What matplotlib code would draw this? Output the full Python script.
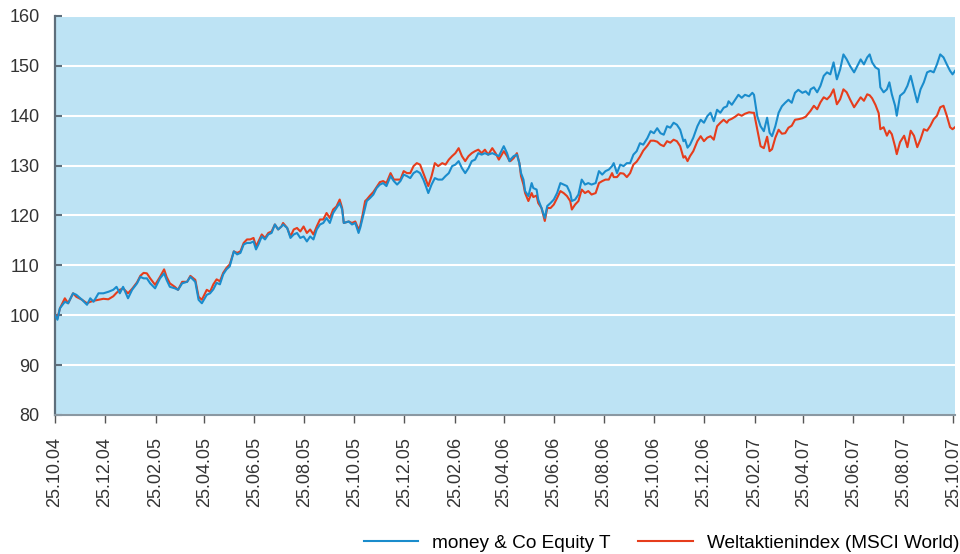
import numpy as np
import pandas as pd
import matplotlib
matplotlib.use("Agg")
import matplotlib.pyplot as plt

plt.rcParams['font.family'] = ['Liberation Sans', 'DejaVu Sans']

start = np.datetime64('2004-10-25')

# day offsets from 25.10.04
days = [0, 3, 6, 12, 16, 22, 26, 33, 39, 43, 47, 53, 59, 65, 71, 75, 79, 83, 89, 94,
        100, 104, 108, 112, 116, 122, 128, 133, 136, 140, 146, 150, 155, 161, 165, 171, 175, 179, 185, 189,
        193, 197, 201, 205, 209, 213, 218, 222, 226, 230, 234, 238, 242, 245, 248, 252, 256, 260, 264, 268,
        272, 276, 278, 283, 287, 291, 295, 299, 303, 307, 311, 315, 319, 323, 327, 331, 335, 339, 343, 347,
        350, 352, 358, 362, 366, 370,
        372, 375, 378, 380, 384, 388, 392, 396, 400, 404, 409, 413, 417, 421, 425, 429, 433, 437, 441, 445,
        449, 452, 455, 459, 463, 467, 472, 476, 480, 484, 488, 492, 496, 500, 504, 508, 512, 516, 520, 524,
        528, 533, 537, 541, 547, 551, 554,
        555, 559, 563, 566, 568, 571, 573, 577, 581, 583, 587, 589, 593, 597, 600, 604, 608, 612, 616, 620,
        624, 628, 630, 634, 638, 642, 646, 650, 654, 659, 663, 667, 671, 675, 679, 681, 685, 689, 693, 697,
        701, 705, 709, 713, 717, 722, 726, 730, 734, 738,
        742, 746, 750, 754, 758, 762, 766, 768, 771, 774, 778, 783, 787, 791, 795, 799, 803, 807, 811, 815,
        819, 821, 825, 829, 833, 837, 841, 846, 850, 852, 856, 860, 864, 868, 871, 874, 878, 882, 886, 890,
        894, 898, 902, 906, 911, 915, 919,
        921, 925, 929, 933, 937, 941, 945, 949, 953, 957, 961, 965, 969, 974, 978, 982, 986, 990, 993, 996,
        1000, 1004, 1006, 1010, 1014, 1017, 1020, 1024, 1026, 1030, 1035, 1039, 1043, 1047, 1051, 1055, 1059,
        1063, 1067, 1071, 1075, 1079, 1083, 1087, 1091, 1094, 1097]

fund = [100.0, 99.1, 101.4, 102.7, 102.4, 104.4, 104.1, 103.1, 102.1, 103.4, 102.7, 104.4, 104.4, 104.7, 105.1,
        105.7, 104.4, 105.7, 103.4, 105.1, 106.4, 107.7, 107.4, 107.4, 106.4, 105.4, 107.4, 108.4, 107.1, 105.7,
        105.4, 105.1, 106.4, 106.7, 107.7, 106.7, 103.1, 102.4, 104.1, 104.4,
        105.2, 106.5, 106.2, 108.2, 109.2, 109.8, 112.8, 112.2, 112.5, 114.2, 114.5, 114.5, 114.8, 113.2, 114.2,
        115.8, 115.2, 116.2, 116.5, 118.2, 117.2, 117.8, 118.2, 117.5, 115.5, 116.2, 116.5, 115.5, 115.8, 114.8,
        115.8, 115.2, 117.2, 118.2, 118.5, 119.5, 118.5, 120.5, 121.5, 122.5, 121.2, 118.5, 118.8, 118.2, 118.5,
        116.5,
        117.5, 119.5, 121.5, 122.9, 123.5, 124.2, 125.5, 126.2, 126.5, 125.9, 127.9, 126.9, 126.2, 126.9, 128.2,
        127.9, 127.5, 128.5, 128.9, 128.5, 127.2, 125.9, 124.5, 126.2, 127.5, 127.2, 127.2, 127.9, 128.5, 129.9,
        130.2, 130.9, 129.5, 128.5, 129.5, 130.9, 131.2, 132.5, 132.2, 132.5, 132.2, 132.5, 132.2, 131.9, 133.9,
        132.5, 130.9,
        131.2, 131.9, 132.2, 130.5, 128.5, 127.2, 124.9, 123.9, 126.5, 125.5, 125.2, 123.2, 121.5, 119.5, 121.9,
        122.5, 123.2, 124.5, 126.5, 126.2, 125.9, 124.5, 122.9, 123.2, 124.2, 127.2, 126.2, 126.5, 126.2, 126.5,
        128.9, 128.2, 128.9, 129.2, 129.9, 130.5, 128.5, 130.2, 129.9, 130.5, 130.5, 132.2, 132.9, 134.5, 134.2,
        135.5, 136.9, 136.5, 137.5, 136.5,
        136.2, 137.9, 137.6, 138.6, 138.2, 137.2, 134.9, 135.2, 133.6, 134.2, 135.6, 137.9, 139.2, 138.6, 139.9,
        140.6, 138.9, 141.2, 140.6, 141.6, 141.9, 142.9, 142.2, 143.2, 144.2, 143.6, 144.2, 143.9, 144.6, 144.2,
        139.9, 137.9, 136.9, 139.6, 136.6, 135.9, 137.9, 140.6, 141.9, 142.6, 143.2, 142.6, 144.6, 145.2, 144.6,
        144.9, 144.2,
        145.3, 145.7, 144.7, 146.0, 148.0, 148.7, 148.3, 150.7, 147.3, 149.3, 152.3, 151.3, 150.0, 148.7, 150.0,
        151.3, 150.3, 151.7, 152.3, 150.7, 149.7, 149.3, 145.7, 144.7, 145.3, 146.7, 144.3, 142.0, 140.0, 144.0,
        144.7, 146.0, 148.0, 145.3, 142.7, 145.3, 146.7, 148.7, 149.0, 148.7, 150.3, 152.3, 151.7, 150.3, 149.0,
        148.3, 149.0]

msci = [100.0, 99.4, 101.4, 103.4, 102.4, 104.4, 103.7, 103.1, 102.4, 102.7, 102.9, 103.1, 103.3, 103.2, 103.8,
        104.5, 105.1, 105.4, 104.4, 105.3, 106.6, 107.9, 108.5, 108.4, 107.4, 106.1, 107.7, 109.2, 107.7, 106.4,
        105.7, 105.1, 106.7, 106.7, 107.9, 107.1, 103.7, 103.1, 105.1, 104.7,
        106.2, 107.2, 106.8, 108.5, 109.5, 110.2, 112.8, 112.5, 112.8, 114.5, 115.2, 115.2, 115.5, 113.8, 114.8,
        116.2, 115.5, 116.5, 116.8, 118.2, 117.2, 117.8, 118.5, 117.5, 115.8, 117.2, 117.5, 116.8, 117.8, 116.5,
        117.2, 116.2, 117.8, 119.2, 119.2, 120.5, 119.5, 121.2, 121.8, 123.2, 121.5, 118.5, 118.8, 118.5, 118.8,
        117.2,
        117.9, 120.2, 122.9, 123.2, 124.0, 124.7, 125.7, 126.7, 126.9, 126.5, 128.5, 127.2, 127.2, 127.2, 128.9,
        128.5, 128.5, 129.9, 130.5, 130.2, 128.5, 127.2, 125.9, 127.9, 130.5, 129.9, 130.5, 130.2, 131.2, 131.9,
        132.5, 133.5, 131.9, 130.9, 131.9, 132.5, 132.9, 133.2, 132.5, 133.2, 132.2, 133.5, 132.5, 131.2, 132.9,
        131.9, 130.9,
        130.9, 131.5, 132.5, 130.5, 127.9, 126.2, 124.5, 122.9, 124.5, 123.7, 124.0, 122.5, 121.5, 118.9, 121.5,
        121.5, 122.2, 123.5, 124.9, 124.5, 123.9, 122.9, 121.2, 122.2, 122.9, 125.2, 124.5, 124.9, 124.2, 124.5,
        126.5, 126.9, 127.2, 127.2, 128.5, 127.7, 127.7, 128.5, 128.4, 127.7, 128.5, 130.2, 130.8, 131.8, 133.0,
        134.0, 135.0, 135.0, 134.8, 134.2,
        133.9, 134.9, 134.6, 135.2, 134.9, 133.9, 131.6, 131.9, 130.9, 131.9, 132.9, 134.9, 135.9, 134.9, 135.6,
        135.9, 135.2, 137.9, 138.6, 139.2, 138.6, 139.1, 139.4, 139.8, 140.3, 140.0, 140.4, 140.7, 140.6, 140.6,
        137.2, 133.9, 133.5, 135.8, 132.9, 133.3, 135.6, 137.2, 136.4, 136.5, 137.6, 138.0, 139.2, 139.3, 139.5,
        139.8, 140.6,
        141.0, 142.0, 141.3, 142.7, 143.7, 143.3, 144.0, 145.3, 142.3, 143.3, 145.3, 144.7, 143.3, 141.7, 142.7,
        143.7, 143.0, 144.3, 144.1, 143.5, 142.2, 140.5, 137.3, 137.7, 136.0, 137.0, 136.3, 133.8, 132.3, 134.7,
        136.0, 133.7, 137.0, 136.0, 133.7, 135.3, 137.3, 137.0, 138.0, 139.3, 140.0, 141.7, 142.0, 140.0, 137.7,
        137.3, 137.7]

series_names = ['money & Co Equity T', 'Weltaktienindex (MSCI World)']
tick_labels = ['25.10.04', '25.12.04', '25.02.05', '25.04.05', '25.06.05', '25.08.05', '25.10.05',
               '25.12.05', '25.02.06', '25.04.06', '25.06.06', '25.08.06', '25.10.06', '25.12.06',
               '25.02.07', '25.04.07', '25.06.07', '25.08.07', '25.10.07']
y_ticks = [80, 90, 100, 110, 120, 130, 140, 150, 160]

dates = start + np.array(days).astype('timedelta64[D]')
tick_dates = pd.to_datetime(tick_labels, format='%d.%m.%y')

fig = plt.figure(figsize=(9.6, 5.54), dpi=100)
ax = fig.add_axes([55 / 960, 1 - 415 / 554, 900 / 960, 399 / 554])
ax.set_facecolor('#bde3f4')

l_red, = ax.plot(dates, msci, color='#e63d1c', lw=1.5, zorder=3, solid_joinstyle='round')
l_blue, = ax.plot(dates, fund, color='#1a8ccc', lw=1.5, zorder=4, solid_joinstyle='round')

ax.set_ylim(80, 160)
ax.set_yticks(y_ticks)
ax.set_xlim(start, start + np.timedelta64(1097, 'D'))
ax.set_xticks(tick_dates)
ax.set_xticklabels(tick_labels, rotation=90)

ax.yaxis.grid(True, color='white', lw=1.5)
ax.set_axisbelow(True)

for s in ['top', 'right']:
    ax.spines[s].set_visible(False)
ax.spines['left'].set_color('#5e6e7b')
ax.spines['left'].set_linewidth(1.6)
ax.spines['bottom'].set_color('#8a98a2')
ax.spines['bottom'].set_linewidth(1.5)

ax.tick_params(axis='y', direction='in', length=5, width=1.5, color='#5e6e7b',
               pad=11, labelsize=13, labelcolor='#333333')
ax.tick_params(axis='x', direction='out', length=6, width=1.0, color='#555555',
               pad=10, labelsize=13, labelcolor='#333333')

fig.legend([l_blue, l_red], series_names, loc='center right',
           bbox_to_anchor=(959 / 960, 11 / 554), ncol=2, frameon=False,
           fontsize=13.7, handlelength=2.87, handletextpad=0.72, columnspacing=1.47,
           borderpad=0, borderaxespad=0)

fig.savefig('out.png', dpi=100, facecolor='white')
